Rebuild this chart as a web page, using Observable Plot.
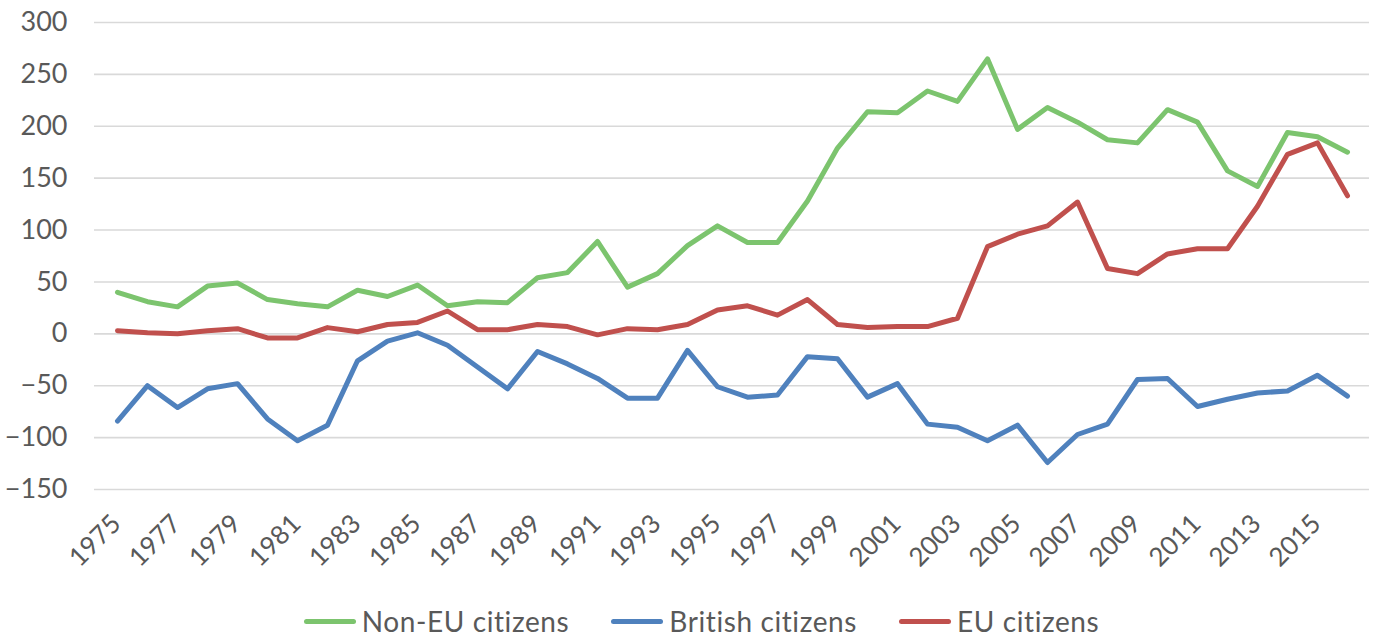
<!DOCTYPE html>
<html>
<head>
<meta charset="utf-8">
<script src="https://cdn.jsdelivr.net/npm/d3@7"></script>
<script src="https://cdn.jsdelivr.net/npm/@observablehq/plot@0.6"></script>
<style>
  html, body { margin: 0; padding: 0; background: #fff; }
  body { width: 1373px; height: 639px; overflow: hidden; font-family: Lato, "DejaVu Sans", sans-serif; }
  #legend { display: flex; justify-content: center; align-items: center; gap: 42px; height: 44px; font-size: 28px; letter-spacing: 0.6px; color: #595959; margin-left: 30px; margin-top: 4px; }
  #legend .item { display: flex; align-items: center; }
  #legend .sw { width: 52px; height: 5px; border-radius: 3px; margin-right: 6px; }
</style>
</head>
<body>
<div id="chart"></div>
<div id="legend"></div>
<script>
const years = d3.range(1975, 2017);
const seriesNames = ["Non-EU citizens", "British citizens", "EU citizens"];
const seriesColors = ["#7cc46e", "#4f81bd", "#c0504d"];
const nonEU = [40, 31, 26, 46, 49, 33, 29, 26, 42, 36, 47, 27, 31, 30, 54, 59, 89, 45, 58, 85, 104, 88, 88, 128, 179, 214, 213, 234, 224, 265, 197, 218, 204, 187, 184, 216, 204, 157, 142, 194, 190, 175];
const british = [-84, -50, -71, -53, -48, -82, -103, -88, -26, -7, 1, -11, -32, -53, -17, -29, -43, -62, -62, -16, -51, -61, -59, -22, -24, -61, -48, -87, -90, -103, -88, -124, -97, -87, -44, -43, -70, -63, -57, -55, -40, -60];
const eu = [3, 1, 0, 3, 5, -4, -4, 6, 2, 9, 11, 22, 4, 4, 9, 7, -1, 5, 4, 9, 23, 27, 18, 33, 9, 6, 7, 7, 15, 84, 96, 104, 127, 63, 58, 77, 82, 82, 123, 173, 184, 133];
const yTicks = [-150, -100, -50, 0, 50, 100, 150, 200, 250, 300];
const xTicks = years.filter(y => (y - 1975) % 2 === 0);

const seriesValues = [nonEU, british, eu];
const data = [];
seriesNames.forEach((name, i) => {
  years.forEach((yr, j) => data.push({series: name, year: yr, value: seriesValues[i][j]}));
});

const chart = Plot.plot({
  width: 1373,
  height: 595,
  marginLeft: 94,
  marginRight: 4,
  marginTop: 22,
  marginBottom: 106,
  style: {fontFamily: "Lato, 'DejaVu Sans', sans-serif", fontSize: "27px", color: "#595959", background: "#fff"},
  x: {type: "point", domain: years, padding: 0.5, label: null, axis: null},
  y: {domain: [-150, 300], label: null},
  color: {domain: seriesNames, range: seriesColors},
  marks: [
    Plot.gridY(yTicks, {stroke: "#d9d9d9", strokeOpacity: 1, strokeWidth: 1.6}),
    Plot.axisY(yTicks, {tickSize: 0, tickPadding: 27, fontSize: 27, fill: "#595959", label: null}),
    Plot.text(xTicks, {x: d => d, text: d => String(d), frameAnchor: "bottom", dy: 30, dx: -1, rotate: -45, textAnchor: "end", lineAnchor: "middle", fontSize: 26, fill: "#595959"}),
    Plot.line(data, {x: "year", y: "value", z: "series", stroke: "series", strokeWidth: 5, strokeLinejoin: "round", strokeLinecap: "round"})
  ]
});
document.getElementById("chart").appendChild(chart);

const legend = document.getElementById("legend");
seriesNames.forEach((name, i) => {
  const item = document.createElement("div");
  item.className = "item";
  const sw = document.createElement("div");
  sw.className = "sw";
  sw.style.background = seriesColors[i];
  const t = document.createElement("span");
  t.textContent = name;
  item.appendChild(sw);
  item.appendChild(t);
  legend.appendChild(item);
});
</script>
</body>
</html>
